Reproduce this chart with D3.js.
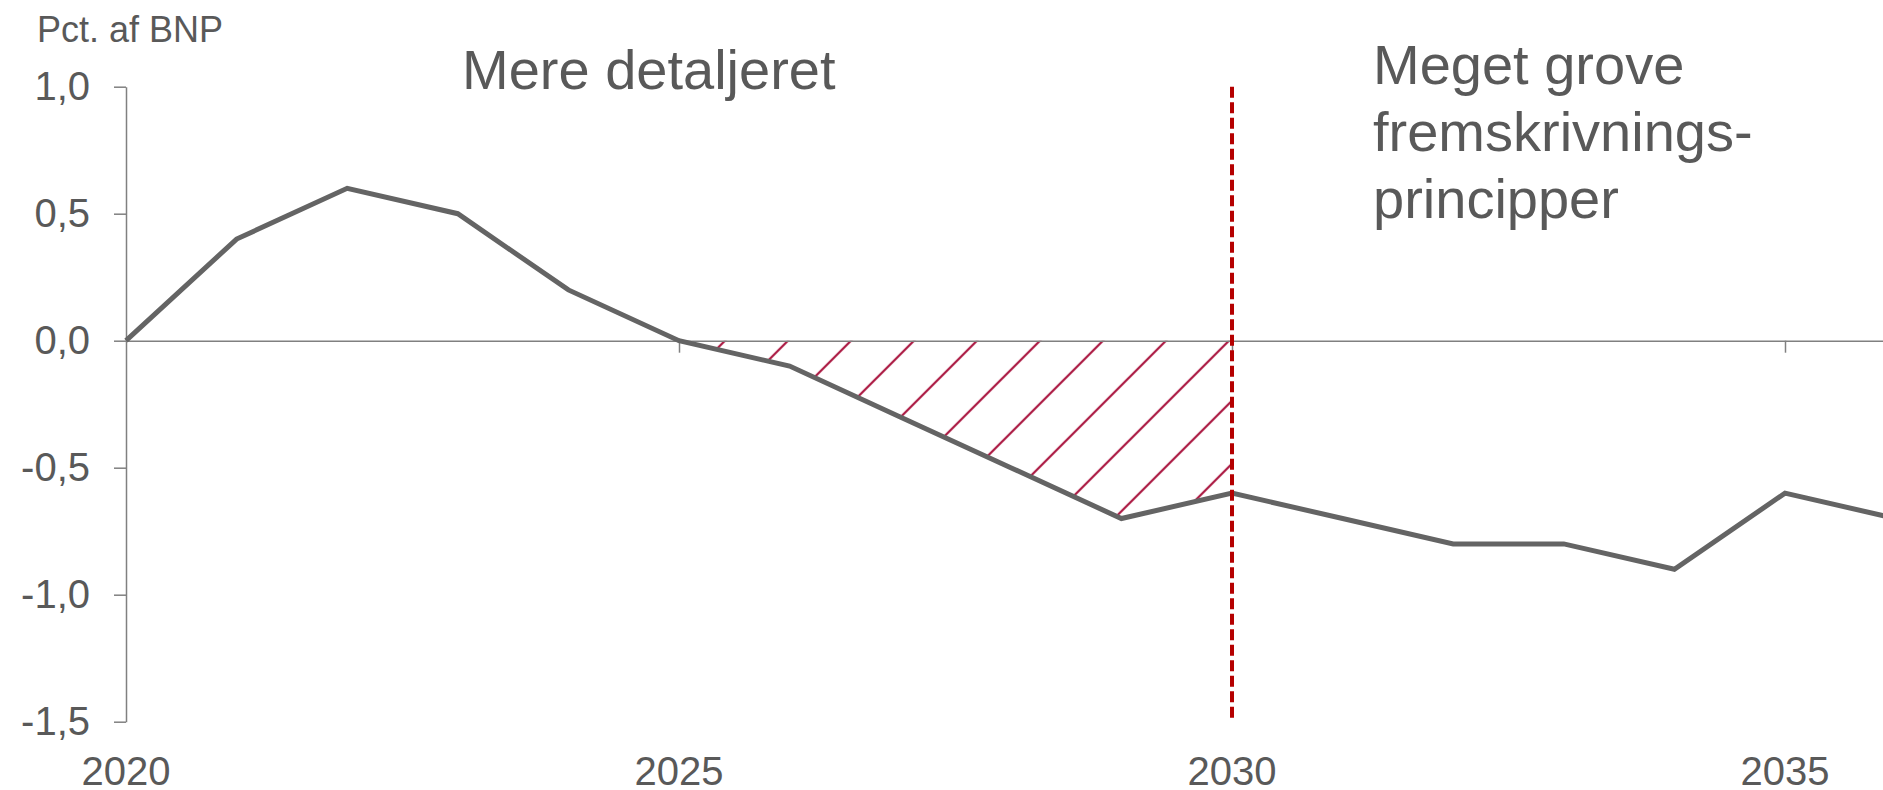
<!DOCTYPE html>
<html>
<head>
<meta charset="utf-8">
<script src="https://cdn.jsdelivr.net/npm/d3@7"></script>
<style>
  body { margin: 0; background: #fff; }
  svg { display: block; font-family: "Liberation Sans", Arial, sans-serif; }
</style>
</head>
<body>
<div class="chart"></div>
<script>
// values
const years   = [2020, 2021, 2022, 2023, 2024, 2025, 2026, 2027, 2028, 2029, 2030, 2031, 2032, 2033, 2034, 2035, 2036];
const balance = [0.0, 0.4, 0.6, 0.5, 0.2, 0.0, -0.1, -0.3, -0.5, -0.7, -0.6, -0.7, -0.8, -0.8, -0.9, -0.6, -0.7];
const yTicks  = [-1.5, -1.0, -0.5, 0.0, 0.5, 1.0];
const xTicks  = [2020, 2025, 2030, 2035];
const hatchFrom = 2025, hatchTo = 2030;
const splitYear = 2030;
const unitLabel = 'Pct. af BNP';
const leftNote  = ['Mere detaljeret'];
const rightNote = ['Meget grove', 'fremskrivnings-', 'principper'];

(() => {
    const width = 1883,
          height = 790;

    const textColor = '#595959',
          axisColor = '#808080';

    const svg = d3.select('.chart')
        .append('svg')
        .attr('width', width)
        .attr('height', height);

    const x = d3.scaleLinear().domain([2020, 2036]).range([126, 126 + 16 * 110.6]);
    const y = d3.scaleLinear().domain([-1.5, 1.0]).range([721.7, 86.7]);

    const fmt = d3.formatLocale({ decimal: ',', thousands: '.', grouping: [3], currency: ['', ' kr.'], minus: '-' }).format('.1f');

    // hatch pattern (wide upward diagonal)
    const step = 63;
    const pat = svg.append('defs').append('pattern')
        .attr('id', 'hatch')
        .attr('patternUnits', 'userSpaceOnUse')
        .attr('x', 57.7)
        .attr('y', 0)
        .attr('width', step)
        .attr('height', step);
    pat.append('path')
        .attr('d', `M0,${step} L${step},0 M-3,3 L3,-3 M${step - 3},${step + 3} L${step + 3},${step - 3}`)
        .attr('stroke', '#aa1640')
        .attr('stroke-width', 2.2)
        .attr('fill', 'none');

    const pts = years.map((yr, i) => ({ yr, v: balance[i] }));

    // hatched gap between zero and the line
    const area = d3.area()
        .x(d => x(d.yr))
        .y0(y(0))
        .y1(d => y(d.v));
    svg.append('path')
        .datum(pts.filter(d => d.yr >= hatchFrom && d.yr <= hatchTo))
        .attr('d', area)
        .attr('fill', 'url(#hatch)');

    // y axis
    const yAxis = svg.append('g')
        .attr('transform', `translate(${x(2020)},0)`)
        .call(d3.axisLeft(y).tickValues(yTicks).tickSize(12).tickPadding(24).tickFormat(fmt).tickSizeOuter(0));
    yAxis.select('.domain').attr('stroke', axisColor).attr('stroke-width', 1.5);
    yAxis.selectAll('.tick line').attr('stroke', axisColor).attr('stroke-width', 1.5);
    yAxis.selectAll('.tick text')
        .attr('fill', textColor)
        .style('font-size', '40px')
        .style('font-family', '"Liberation Sans", Arial, sans-serif');

    // x axis along zero
    const xAxis = svg.append('g')
        .attr('transform', `translate(0,${y(0)})`)
        .call(d3.axisBottom(x).tickValues(xTicks.slice(1)).tickSize(12).tickFormat('').tickSizeOuter(0));
    xAxis.select('.domain').attr('stroke', axisColor).attr('stroke-width', 1.5);
    xAxis.selectAll('.tick line').attr('stroke', axisColor).attr('stroke-width', 1.5);

    // year labels at the bottom
    svg.append('g').selectAll('text')
        .data(xTicks)
        .enter().append('text')
        .attr('x', d => x(d))
        .attr('y', 785)
        .attr('text-anchor', 'middle')
        .attr('fill', textColor)
        .style('font-size', '40px')
        .text(d => d);

    // the line
    const line = d3.line()
        .x(d => x(d.yr))
        .y(d => y(d.v));
    svg.append('path')
        .datum(pts)
        .attr('d', line)
        .attr('fill', 'none')
        .attr('stroke', '#646464')
        .attr('stroke-width', 5)
        .attr('stroke-linejoin', 'miter');

    // split marker
    svg.append('line')
        .attr('x1', x(splitYear)).attr('x2', x(splitYear))
        .attr('y1', y(1.0)).attr('y2', y(-1.5))
        .attr('stroke', '#b50000')
        .attr('stroke-width', 4)
        .attr('stroke-dasharray', '11,4.5');

    // texts
    svg.append('text')
        .attr('x', 37).attr('y', 42)
        .attr('fill', textColor)
        .style('font-size', '36px')
        .text(unitLabel);

    svg.append('text')
        .attr('x', 462).attr('y', 89)
        .attr('fill', textColor)
        .style('font-size', '56px')
        .text(leftNote[0]);

    svg.append('g').selectAll('text')
        .data(rightNote)
        .enter().append('text')
        .attr('x', 1373)
        .attr('y', (d, i) => 84 + i * 67)
        .attr('fill', textColor)
        .style('font-size', '56px')
        .text(d => d);
})();
</script>
</body>
</html>
